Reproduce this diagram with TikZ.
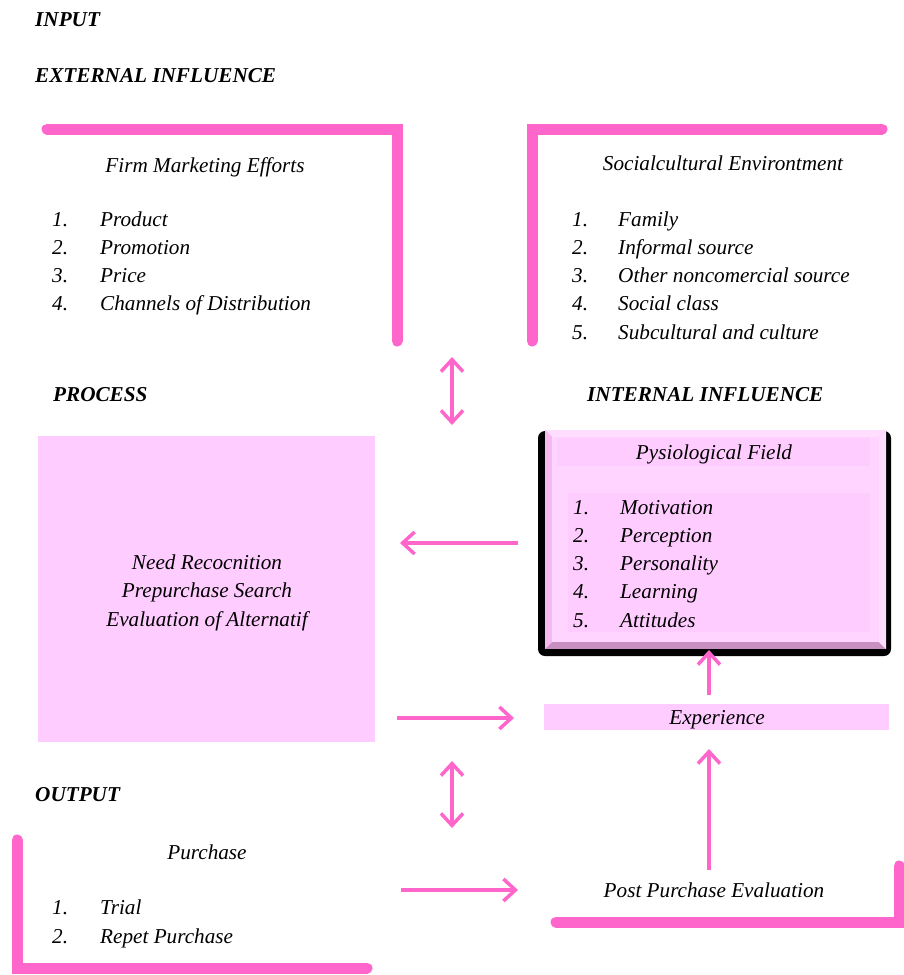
\documentclass[tikz,border=0pt]{standalone}
\usepackage{fontspec}
\setmainfont{Liberation Serif}
\usetikzlibrary{arrows.meta}
\definecolor{hot}{HTML}{FF66CC}
\definecolor{lpink}{HTML}{FFCCFF}
\definecolor{bev}{HTML}{F6B8F0}
\definecolor{bevlight}{HTML}{FFDDFF}
\definecolor{bevdark}{HTML}{C890C0}
\tikzset{
  txt/.style={inner sep=0pt, font=\fontsize{21.2}{24}\selectfont\itshape, anchor=base west},
  ctxt/.style={inner sep=0pt, font=\fontsize{21.2}{24}\selectfont\itshape, anchor=base},
  head/.style={inner sep=0pt, font=\fontsize{21.2}{24}\selectfont\bfseries\itshape, anchor=base west},
  bracket/.style={draw=hot, line width=11pt, line cap=round, line join=miter},
  arr/.style={draw=hot, line width=3.5pt, -{Straight Barb[length=12pt,width=22pt,line width=3.5pt]}},
  darr/.style={draw=hot, line width=3.5pt, {Straight Barb[length=12pt,width=22pt,line width=3.5pt]}-{Straight Barb[length=12pt,width=22pt,line width=3.5pt]}},
}
\begin{document}
\begin{tikzpicture}[x=1pt,y=-1pt]
\useasboundingbox (0,0) rectangle (904,975);
\fill[white] (0,0) rectangle (904,975);

% headings
\node[head] (hin) at (35,26) {INPUT};
\node[head] (hext) at (35,82) {EXTERNAL INFLUENCE};
\node[head] (hproc) at (53,401) {PROCESS};
\node[head] (hint) at (587,401) {INTERNAL INFLUENCE};
\node[head] (hout) at (35,801) {OUTPUT};

% bracket 1
\draw[bracket] (47,129) -- (397,129) -- (397,341);
\node[ctxt] (firm) at (205,172) {Firm Marketing Efforts};
\foreach \n/\t [count=\i] in {1./Product,2./Promotion,3./Price,4./Channels of Distribution}{
  \node[txt] (fn\i) at (52,226+28*\i-28) {\n};
  \node[txt] (fi\i) at (100,226+28*\i-28) {\t};
}

% bracket 2
\draw[bracket] (882,129) -- (532,129) -- (532,341);
\node[ctxt] (soc) at (723,170) {Socialcultural Environtment};
\foreach \n/\t [count=\i] in {1./Family,2./Informal source,3./Other noncomercial source,4./Social class,5./Subcultural and culture}{
  \node[txt] (sn\i) at (572,226+28.25*\i-28.25) {\n};
  \node[txt] (si\i) at (618,226+28.25*\i-28.25) {\t};
}

% double arrow top
\coordinate (d1a) at (452,357);
\coordinate (d1b) at (452,425);
\draw[darr] (d1a) -- (d1b);

% process box
\node[fill=lpink, minimum width=337pt, minimum height=306pt, inner sep=0pt] (proc) at (206.5,589) {};
\node[ctxt] (p1) at (207,569) {Need Recocnition};
\node[ctxt] (p2) at (207,597) {Prepurchase Search};
\node[ctxt] (p3) at (207,626) {Evaluation of Alternatif};

% internal box
\fill[black, rounded corners=7pt] (538,431) rectangle (891,656);
\fill[bevdark] (545,430) rectangle (886,649);
\fill[bevlight] (545,430) -- (886,430) -- (879,437) -- (552,437) -- cycle;
\fill[bevlight] (886,430) -- (886,649) -- (879,642) -- (879,437) -- cycle;
\fill[bev] (545,430) -- (552,437) -- (552,642) -- (545,649) -- cycle;
\fill[lpink!85!white] (552,437) rectangle (879,642);
\node[fill=lpink, minimum width=313pt, minimum height=28pt, inner sep=0pt] (pfband) at (713.5,452) {};
\node[fill=lpink, minimum width=302pt, minimum height=139pt, inner sep=0pt] (plband) at (719,562.5) {};
\node[ctxt] (pf) at (714,459) {Pysiological Field};
\foreach \n/\t [count=\i] in {1./Motivation,2./Perception,3./Personality,4./Learning,5./Attitudes}{
  \node[txt] (in\i) at (573,514+28.25*\i-28.25) {\n};
  \node[txt] (ii\i) at (620,514+28.25*\i-28.25) {\t};
}
\node[inner sep=0pt, minimum width=353pt, minimum height=226pt] (intl) at (714.5,543) {};

% experience
\node[fill=lpink, minimum width=345pt, minimum height=26pt, inner sep=0pt] (exp) at (716.5,717) {};
\node[ctxt] (expt) at (717,724) {Experience};

% arrows
\coordinate (a1s) at (518,543);
\coordinate (a1e) at (400,543);
\draw[arr] (a1s) -- (a1e);
\coordinate (a2s) at (397,718);
\coordinate (a2e) at (514,718);
\draw[arr] (a2s) -- (a2e);
\coordinate (a3s) at (709,695);
\coordinate (a3e) at (709,650);
\draw[arr] (a3s) -- (a3e);

% double arrow bottom
\coordinate (d2a) at (452,761);
\coordinate (d2b) at (452,828);
\draw[darr] (d2a) -- (d2b);

% bracket 3
\draw[bracket] (17,840) -- (17,968) -- (367,968);
\node[ctxt] (pur) at (207,859) {Purchase};
\node[txt] (o1n) at (52,914) {1.};
\node[txt] (o1) at (100,914) {Trial};
\node[txt] (o2n) at (52,943) {2.};
\node[txt] (o2) at (100,943) {Repet Purchase};

% output arrow
\coordinate (a4s) at (401,890);
\coordinate (a4e) at (518,890);
\draw[arr] (a4s) -- (a4e);

% post purchase
\node[ctxt] (ppe) at (714,897) {Post Purchase Evaluation};
\coordinate (a5s) at (709,870);
\coordinate (a5e) at (709,749);
\draw[arr] (a5s) -- (a5e);

% bracket 4
\draw[bracket] (556,922) -- (899,922) -- (899,866);
\end{tikzpicture}
\end{document}
